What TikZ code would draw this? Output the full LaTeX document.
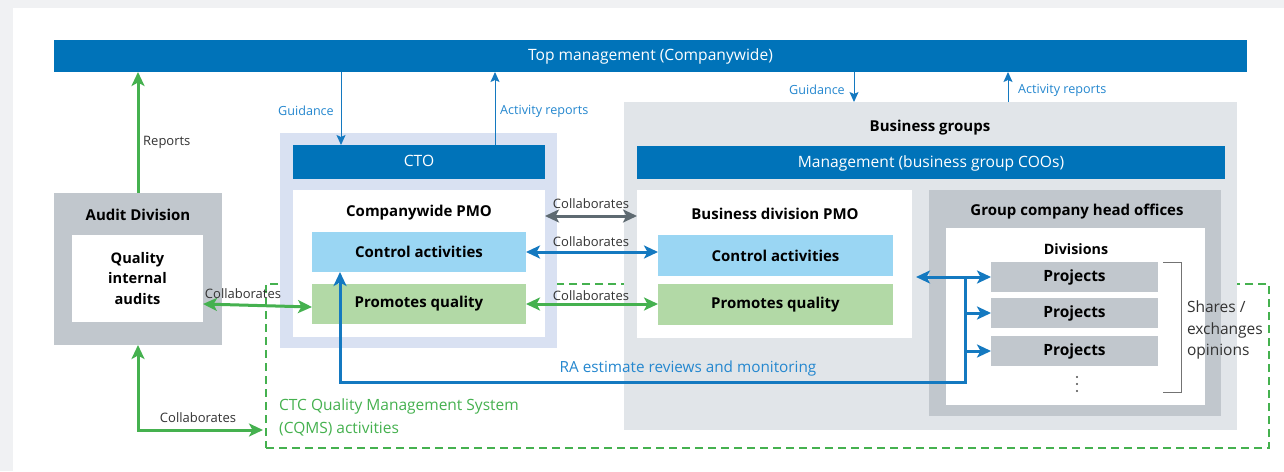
\documentclass[tikz,border=0pt]{standalone}
\usepackage{fontspec}
\setmainfont{Open Sans}
\usetikzlibrary{arrows.meta, positioning, calc}
\definecolor{topblue}{HTML}{0073B9}
\definecolor{txtblue}{HTML}{2487CF}
\definecolor{arrblue}{HTML}{1479C0}
\definecolor{qgreen}{HTML}{45B14F}
\definecolor{ctlblue}{HTML}{9AD6F3}
\definecolor{prmgreen}{HTML}{B2D9A6}
\definecolor{ctopale}{HTML}{D9E1F2}
\definecolor{bgpale}{HTML}{E1E5E9}
\definecolor{boxgray}{HTML}{C1C7CD}
\definecolor{arrgray}{HTML}{5E6A71}
\definecolor{pagegray}{HTML}{F0F1F3}

\begin{document}
\begin{tikzpicture}[x=1pt, y=-1pt,
    box/.style={inner sep=0, outer sep=0, anchor=north west, align=center},
    bar/.style={box, fill=topblue, text=white, font=\fontsize{15.6}{18}\selectfont, text depth=2pt},
    inbox/.style={box, font=\bfseries\fontsize{15}{18}\selectfont},
    ttl/.style={inner sep=0, font=\bfseries\fontsize{15}{18}\selectfont},
    small/.style={inner sep=0, text=black!80, font=\fontsize{13}{15}\selectfont},
    bluetxt/.style={inner sep=0, text=txtblue, font=\fontsize{12.6}{15}\selectfont},
    thinarr/.style={draw=arrblue, line width=1pt, -{Stealth[length=10pt,width=9pt,inset=2pt]}},
    fatarr/.style={line width=3pt, {Stealth[length=14pt,width=13pt,inset=3.5pt]}-{Stealth[length=14pt,width=13pt,inset=3.5pt]}},
    fatone/.style={line width=3pt, -{Stealth[length=14pt,width=13pt,inset=3.5pt]}}
  ]
  \useasboundingbox (0,0) rectangle (1284,471);
  \fill[pagegray] (0,0) rectangle (1284,471);
  \fill[white] (13,8) rectangle (1284,471);

  % CQMS frame, behind the panels
  \node[box, draw=qgreen, line width=2pt, dash pattern=on 8pt off 5pt,
        minimum width=1003, minimum height=164] (cqms) at (266,284) {};

  % top management
  \node[bar, minimum width=1193, minimum height=32] (top) at (54,40) {Top management (Companywide)};

  % audit division
  \node[box, fill=boxgray, minimum width=168, minimum height=152] (audit) at (54,193) {};
  \node[ttl] (auditttl) at (138,215) {Audit Division};
  \node[inbox, fill=white, minimum width=131, minimum height=87,
        font=\bfseries\fontsize{14.6}{20.5}\selectfont] (qia) at (72,235) {Quality\\internal\\audits};

  % CTO side
  \node[box, fill=ctopale, minimum width=277, minimum height=215] (ctopanel) at (280,133) {};
  \node[bar, minimum width=252, minimum height=34] (cto) at (293,145) {CTO};
  \node[box, fill=white, minimum width=252, minimum height=147] (cwpmo) at (293,190) {};
  \node[ttl] (cwpmottl) at (419,213) {Companywide PMO};
  \node[inbox, fill=ctlblue, minimum width=214, minimum height=40] (ctrlA) at (312,232) {Control activities};
  \node[inbox, fill=prmgreen, minimum width=214, minimum height=40] (promA) at (312,284) {Promotes quality};

  % business groups
  \node[box, fill=bgpale, minimum width=613, minimum height=328] (bg) at (624,102) {};
  \node[ttl] (bgttl) at (930,128) {Business groups};
  \node[bar, minimum width=588, minimum height=33] (mgmt) at (637,146) {Management (business group COOs)};
  \node[box, fill=white, minimum width=275, minimum height=148] (bdpmo) at (637,190) {};
  \node[ttl] (bdpmottl) at (775,214) {Business division PMO};
  \node[inbox, fill=ctlblue, minimum width=235, minimum height=41] (ctrlB) at (658,235) {Control activities};
  \node[inbox, fill=prmgreen, minimum width=235, minimum height=41] (promB) at (658,284) {Promotes quality};

  % group company head offices
  \node[box, fill=boxgray, minimum width=292, minimum height=226] (gcho) at (929,190) {};
  \node[ttl] (gchottl) at (1077,212) {Group company head offices};
  \node[box, fill=white, minimum width=259, minimum height=177] (divs) at (946,228) {};
  \node[ttl, font=\bfseries\fontsize{14.3}{17}\selectfont] (divsttl) at (1076,249) {Divisions};
  \node[inbox, fill=boxgray, minimum width=167, minimum height=30, font=\bfseries\fontsize{15.5}{18}\selectfont] (proj1) at (991,262) {Projects};
  \node[inbox, fill=boxgray, minimum width=167, minimum height=30, font=\bfseries\fontsize{15.5}{18}\selectfont] (proj2) at (991,298) {Projects};
  \node[inbox, fill=boxgray, minimum width=167, minimum height=30, font=\bfseries\fontsize{15.5}{18}\selectfont] (proj3) at (991,336) {Projects};
  \foreach \y in {377,384,391} \fill[black!70] (1077,\y) circle (1.1);
  \draw[black!55, line width=0.9pt] ($(proj1.north east)+(5,0)$) -| ($(proj3.south east)+(23,26)$) -- ($(proj3.south east)+(5,26)$);
  \node[inbox, font=\fontsize{15.5}{21.5}\selectfont, align=left, anchor=west, text=black!80] (shares) at (1187,330) {Shares /\\exchanges\\opinions};

  % guidance and reports
  \coordinate (guideA) at ($(cto.north west)+(48,0)$);
  \coordinate (actA) at ($(cto.north east)+(-50,0)$);
  \coordinate (guideB) at ($(bg.north west)+(230,0)$);
  \coordinate (actB) at ($(bg.north west)+(384,0)$);
  \draw[thinarr] (guideA |- top.south) -- (guideA);
  \draw[thinarr] (actA) -- (actA |- top.south);
  \draw[thinarr] (guideB |- top.south) -- (guideB);
  \draw[thinarr] (actB) -- (actB |- top.south);
  \node[bluetxt, anchor=east] at ($(guideA)+(-7,-34)$) {Guidance};
  \node[bluetxt, anchor=west] at ($(actA)+(5,-34)$) {Activity reports};
  \node[bluetxt, anchor=east] at ($(guideB)+(-9,-12)$) {Guidance};
  \node[bluetxt, anchor=west] at ($(actB)+(10,-12)$) {Activity reports};

  \draw[fatone, qgreen] (audit.north) -- (audit.north |- top.south);
  \node[small, anchor=west] at (143,142) {Reports};

  % collaboration
  \draw[fatarr, arrgray] ($(cwpmo.north east)+(0,26)$) -- ($(bdpmo.north west)+(0,26)$);
  \draw[fatarr, arrblue] (ctrlA.east) -- (ctrlA.east -| ctrlB.west);
  \draw[fatarr, qgreen] (promA.east) -- (promA.east -| promB.west);
  \draw[fatarr, qgreen] (qia.east |- promA.west) -- ([yshift=-3]promA.west);
  \coordinate (cqmsin) at ($(cqms.west |- 0,430)+(-3,0)$);
  \draw[fatarr, qgreen] (audit.south) |- (cqmsin);
  \node[small] at (591,204) {Collaborates};
  \node[small] at (591,242) {Collaborates};
  \node[small] at (591,296) {Collaborates};
  \node[small] at (243,294) {Collaborates};
  \node[small] at (198,418) {Collaborates};

  % RA reviews
  \coordinate (hub) at ($(gcho.west |- proj1.west)+(-13,0)$);
  \coordinate (jn) at (965,277);
  \coordinate (ra) at (340,382);
  \draw[fatarr, arrblue] (hub) -- (proj1.west);
  \draw[fatone, arrblue] (jn |- proj2.west) -- (proj2.west);
  \draw[fatone, arrblue] (jn |- proj3.west) -- (proj3.west);
  \draw[fatone, arrblue] (jn) |- (ra) -- (ra |- ctrlA.south);
  \node[bluetxt, font=\fontsize{15.3}{18}\selectfont] at (688,369) {RA estimate reviews and monitoring};

  \node[inner sep=0, text=qgreen, font=\fontsize{15.5}{23}\selectfont, align=left, anchor=north west] (cqmsttl) at (279,399) {CTC Quality Management System\\(CQMS) activities};
\end{tikzpicture}
\end{document}
